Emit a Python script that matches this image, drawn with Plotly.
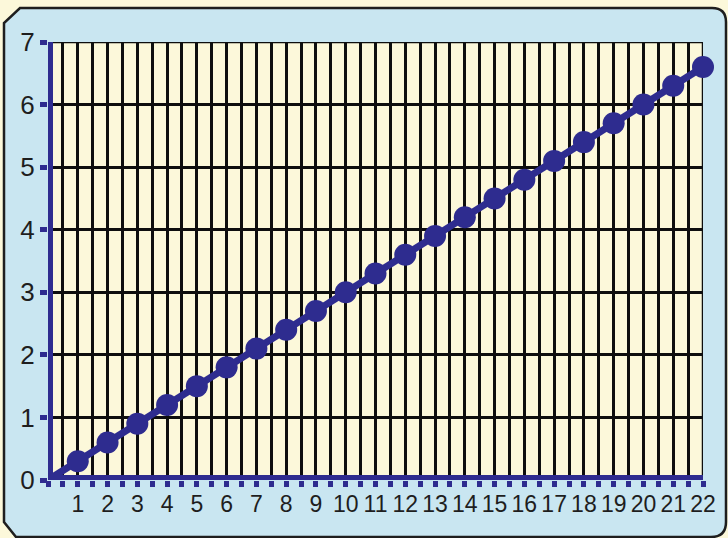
import plotly.graph_objects as go

# Series: quantity measured at each step
steps = [1, 2, 3, 4, 5, 6, 7, 8, 9, 10, 11, 12, 13, 14, 15, 16, 17, 18, 19, 20, 21, 22]
values = [0.3, 0.6, 0.9, 1.2, 1.5, 1.8, 2.1, 2.4, 2.7, 3.0, 3.3, 3.6,
          3.9, 4.2, 4.5, 4.8, 5.1, 5.4, 5.7, 6.0, 6.3, 6.6]

# Axis ticks
x_ticks = [i / 2 for i in range(0, 45)]
x_labels = [str(int(v)) if v == int(v) and v > 0 else "" for v in x_ticks]
y_ticks = [0, 1, 2, 3, 4, 5, 6, 7]

X_MAX, Y_MAX = 22, 7

NAVY = "#2E2C8F"
CREAM = "#FCF8DA"
PANEL = "#C9E6F1"
GRID = "#0E0E0E"

W, H = 728, 538
L, R, T, B = 48, 25, 42, 58
PW, PH = W - L - R, H - T - B


def to_paper(px, py):
    return (px - L) / PW, (H - B - py) / PH


def panel_path():
    path = []
    x0, y0 = to_paper(20, 8)
    path.append(f"M{x0},{y0}")
    x1, y1 = to_paper(712, 8)
    path.append(f"L{x1},{y1}")
    cx, cy = to_paper(726, 8)
    ex, ey = to_paper(726, 22)
    path.append(f"Q{cx},{cy} {ex},{ey}")
    x2, y2 = to_paper(726, 522)
    path.append(f"L{x2},{y2}")
    cx, cy = to_paper(726, 537)
    ex, ey = to_paper(711, 537)
    path.append(f"Q{cx},{cy} {ex},{ey}")
    for p in [(16, 537), (4, 522), (4, 23)]:
        a, b = to_paper(*p)
        path.append(f"L{a},{b}")
    path.append("Z")
    return " ".join(path)


fig = go.Figure()

# Line from the origin through every measured point
fig.add_trace(go.Scatter(
    x=[0] + steps, y=[0] + values,
    mode="lines",
    line=dict(color=NAVY, width=7),
    hoverinfo="skip",
    cliponaxis=False,
))
fig.add_trace(go.Scatter(
    x=steps, y=values,
    mode="markers",
    marker=dict(color=NAVY, size=22),
    cliponaxis=False,
))

shapes = [
    # rounded blue card behind the chart
    dict(type="path", path=panel_path(), xref="paper", yref="paper",
         fillcolor=PANEL, line=dict(color="#1E1E1E", width=2.5), layer="below"),
    # cream plotting field
    dict(type="rect", xref="x", yref="y", x0=0, x1=X_MAX, y0=0, y1=Y_MAX,
         fillcolor=CREAM, line=dict(width=0), layer="below"),
    # closing grid lines on the top and right edges
    dict(type="line", xref="x", yref="y", x0=0, x1=X_MAX, y0=Y_MAX, y1=Y_MAX,
         line=dict(color=GRID, width=2.5), layer="below"),
    dict(type="line", xref="x", yref="y", x0=X_MAX, x1=X_MAX, y0=0, y1=Y_MAX,
         line=dict(color=GRID, width=2.5), layer="below"),
    # heavy axis bars
    dict(type="line", xref="x", yref="y", x0=-0.02, x1=X_MAX + 0.05, y0=0, y1=0,
         line=dict(color=NAVY, width=10), layer="above"),
    dict(type="line", xref="x", yref="y", x0=0, x1=0, y0=-0.02, y1=Y_MAX + 0.07,
         line=dict(color=NAVY, width=10), layer="above"),
]

fig.update_layout(
    width=W, height=H,
    margin=dict(l=L, r=R, t=T, b=B),
    paper_bgcolor=CREAM,
    plot_bgcolor=CREAM,
    showlegend=False,
    shapes=shapes,
    font=dict(family="Liberation Sans, Arial, sans-serif", color="#1E1E1E"),
)

fig.update_xaxes(
    range=[0, X_MAX],
    tickmode="array", tickvals=x_ticks, ticktext=x_labels,
    showgrid=True, gridcolor=GRID, gridwidth=2.5,
    ticks="outside", ticklen=6, tickwidth=5, tickcolor=NAVY,
    tickfont=dict(size=23),
    ticklabelstandoff=-3,
    showline=False, zeroline=False,
    fixedrange=True,
)
fig.update_yaxes(
    range=[0, Y_MAX],
    tickmode="array", tickvals=y_ticks,
    showgrid=True, gridcolor=GRID, gridwidth=2.5,
    ticks="outside", ticklen=7, tickwidth=5, tickcolor=NAVY,
    tickfont=dict(size=26),
    showline=False, zeroline=False,
    fixedrange=True,
)

fig.write_html("out.html")
